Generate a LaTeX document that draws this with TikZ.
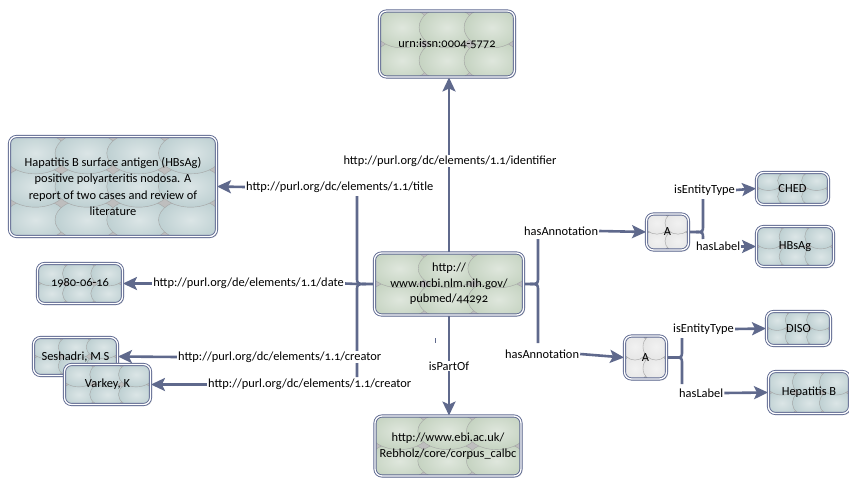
\documentclass[tikz,border=0pt]{standalone}
\usepackage{fontspec}
\setmainfont{Carlito}[Numbers=OldStyle]
\usetikzlibrary{arrows.meta,calc,shadows}
\definecolor{edgec}{HTML}{5F698C}
\definecolor{bordc}{HTML}{5D6890}
\definecolor{gfill}{HTML}{C5D3C1}
\definecolor{bfill}{HTML}{BED0D2}
\definecolor{afill}{HTML}{E6E6E6}
\definecolor{patbg}{HTML}{BEBEBE}
\definecolor{patln}{HTML}{A4A4A4}
\pgfdeclarelayer{bg}
\pgfsetlayers{bg,main}
\tikzset{
  txt/.style={font=\fontsize{12.4}{15.5}\selectfont},
  box/.style n args={5}{txt, shape=rectangle, rounded corners=7pt,
    minimum width=#1pt, minimum height=#2pt, inner sep=0pt, align=center,
    draw=bordc, line width=0.9pt, double=white, double distance=1.3pt,
    drop shadow={opacity=0.25, shadow xshift=1.5pt, shadow yshift=-1.5pt},
    path picture={
      \fill[patbg] (path picture bounding box.south west) rectangle (path picture bounding box.north east);
      \foreach \ii in {1,...,#3}{\foreach \jj in {1,...,#4}{
        \path[inner color=white!45!#5, outer color=#5, draw=patln, line width=0.4pt]
          let \p1=(path picture bounding box.south west),
              \p2=(path picture bounding box.north east),
              \n1={(\x2-\x1)/#3}, \n2={(\y2-\y1)/#4}
          in ({\x1+(\ii-0.5)*\n1*1pt},{\y1+(\jj-0.5)*\n2*1pt})
             ellipse [x radius={0.62*\n1*1pt}, y radius={0.62*\n2*1pt}];
      }}
    }},
  conn/.style={draw=edgec, line width=2.6pt},
  arr/.style={-{Stealth[length=14pt,width=13pt,inset=3pt]}},
  lbl/.style={txt, fill=white, inner sep=1pt},
}
\begin{document}
\begin{tikzpicture}[x=1pt,y=-1pt]
\useasboundingbox (0,0) rectangle (849,479);
% boxes
\node[box={135}{66}{3}{2}{gfill}] (urn) at (447,44) {urn:issn:0004-5772};
\node[box={207}{100}{4}{3}{bfill}, font=\fontsize{12.4}{16.5}\selectfont] (title) at (113,186.5)
  {Hapatitis B surface antigen (HBsAg)\\positive polyarteritis nodosa. A\\report of two cases and review of\\literature};
\node[box={85}{40}{3}{2}{bfill}] (date) at (80,283.5) {1980-06-16};
\node[box={84}{38}{3}{2}{bfill}] (sesh) at (75.5,356.5) {Seshadri, M S};
\node[box={86}{40}{3}{2}{bfill}] (vark) at (107.5,384.5) {Varkey, K};
\node[box={149}{62}{3}{2}{gfill}] (central) at (449,284) {http://\\www.ncbi.nlm.nih.gov/\\pubmed/44292};
\node[box={146}{60}{3}{2}{gfill}] (corpus) at (448,446) {http://www.ebi.ac.uk/\\Rebholz/core/corpus\_calbc};
\node[box={42}{36}{2}{2}{afill}] (a1) at (667.5,232) {A};
\node[box={72}{32}{3}{2}{bfill}] (ched) at (792.5,188.5) {CHED};
\node[box={77}{40}{3}{2}{bfill}] (hbsag) at (795,246.5) {HBsAg};
\node[box={42}{43}{2}{2}{afill}] (a2) at (645.5,357.5) {A};
\node[box={64}{34}{3}{2}{bfill}] (diso) at (798.5,328.5) {DISO};
\node[box={81}{42}{3}{2}{bfill}] (hepb) at (809,392.5) {Hepatitis B};
% labels
\node[lbl] (idl) at (450,161) {http://purl.org/dc/elements/1.1/identifier};
\node[lbl, anchor=west] (til) at (245,187) {http://purl.org/dc/elements/1.1/title};
\node[lbl, anchor=east] (dal) at (345,283.5) {http://purl.org/de/elements/1.1/date};
\node[lbl, anchor=west] (cr1) at (177,357) {http://purl.org/dc/elements/1.1/creator};
\node[lbl, anchor=west] (cr2) at (207,384.5) {http://purl.org/dc/elements/1.1/creator};
\node[lbl] (ipo) at (449,366) {isPartOf};
\node[lbl, anchor=west] (ha1) at (523,231) {hasAnnotation};
\node[lbl, anchor=west] (ha2) at (504,354) {hasAnnotation};
\node[lbl, anchor=west] (et1) at (673,190) {isEntityType};
\node[lbl, anchor=west] (hl1) at (695,246.5) {hasLabel};
\node[lbl, anchor=west] (et2) at (672,329) {isEntityType};
\node[lbl, anchor=west] (hl2) at (678,393) {hasLabel};
% brace coordinates
\coordinate (lvt) at (357,196); \coordinate (lvu) at (357,277);
\coordinate (lvm) at (357,284); \coordinate (lvd) at (357,291);
\coordinate (lvb) at (357,377); \coordinate (lpt) at (366,284);
\coordinate (rvt) at (538,239); \coordinate (rvu) at (538,277);
\coordinate (rvm) at (538,284); \coordinate (rvd) at (538,291);
\coordinate (rvb) at (538,343); \coordinate (rpt) at (530,284);
\coordinate (avt) at (703,199); \coordinate (avu) at (703,225);
\coordinate (avm) at (703,232); \coordinate (avd) at (703,239);
\coordinate (avb) at (703,239); \coordinate (apt) at (696,232);
\coordinate (bvt) at (682,338); \coordinate (bvu) at (682,350.5);
\coordinate (bvm) at (682,357.5); \coordinate (bvd) at (682,364.5);
\coordinate (bvb) at (682,384); \coordinate (bpt) at (675,357.5);
\coordinate (tk1) at (435,338); \coordinate (tk2) at (435,343);
\begin{pgfonlayer}{bg}
% left brace
\draw[conn] (lvt) -- (lvu) .. controls (lvm) .. (lpt) -- (central.west);
\draw[conn] (lvb) -- (lvd) .. controls (lvm) .. (lpt);
\draw[conn] (dal.east) -- (lvm);
\draw[conn,arr] (til.west) -- (title.east);
\draw[conn,arr] (dal.west) -- (date.east);
\draw[conn,arr] (cr1.west) -- (sesh.east);
\draw[conn,arr] (cr2.west) -- (vark.east);
% vertical
\draw[conn,arr] (central.north) -- (central.north |- urn.south);
\draw[conn,arr] (central.south) -- (central.south |- corpus.north);
\draw[edgec, line width=1pt] (tk1) -- (tk2);
% right brace
\draw[conn] (rvt) -- (rvu) .. controls (rvm) .. (rpt) -- (central.east);
\draw[conn] (rvb) -- (rvd) .. controls (rvm) .. (rpt);
\draw[conn,arr] (ha1.east) -- (a1.west);
\draw[conn,arr] (ha2.east) -- (a2.west);
% A1 brace
\draw[conn] (avt) -- (avu) .. controls (avm) .. (apt) -- (a1.east);
\draw[conn] (avb) -- (avd) .. controls (avm) .. (apt);
\draw[conn,arr] (et1.east) -- (ched.west);
\draw[conn,arr] (hl1.east) -- (hbsag.west);
% A2 brace
\draw[conn] (bvt) -- (bvu) .. controls (bvm) .. (bpt) -- (a2.east);
\draw[conn] (bvb) -- (bvd) .. controls (bvm) .. (bpt);
\draw[conn,arr] (et2.east) -- (diso.west);
\draw[conn,arr] (hl2.east) -- (hepb.west);
\end{pgfonlayer}
\end{tikzpicture}
\end{document}
